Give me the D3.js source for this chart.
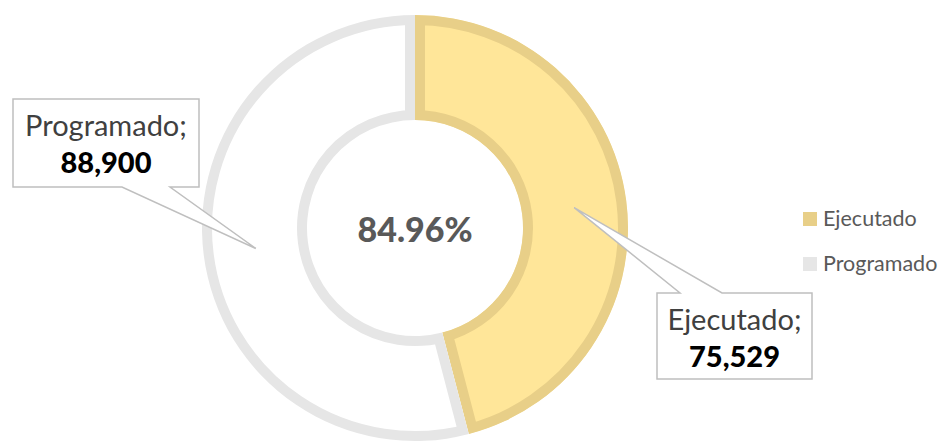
<!DOCTYPE html>
<html>
<head>
<meta charset="utf-8">
<script src="https://cdn.jsdelivr.net/npm/d3@7"></script>
<style>
  body { margin: 0; background: #fff; }
  text { font-family: Lato, "Open Sans", sans-serif; }
</style>
</head>
<body>
<svg id="donut" width="944" height="445"></svg>
<script>
// data
let categories = ["Ejecutado", "Programado"];
let values = [75529, 88900];
let fills = ["#FFE699", "#FFFFFF"];
let strokes = ["#E8CF88", "#E6E6E6"];

let svg = d3.select("#donut");
let cx = 415, cy = 228;
let outerR = 213, innerR = 108;

let pie = d3.pie().sort(null).value(d => d.value);
let arc = d3.arc().innerRadius(innerR).outerRadius(outerR);

let data = categories.map((c, i) => ({ name: c, value: values[i], fill: fills[i], stroke: strokes[i] }));
let arcs = pie(data);

let chart = svg.append("g").attr("transform", "translate(" + cx + ", " + cy + ")");
let defs = svg.append("defs");

// inner stroke: clip each slice's stroke to its own shape
arcs.forEach((a, i) => {
    defs.append("clipPath").attr("id", "clip" + i)
        .append("path").attr("d", arc(a));
    chart.append("path")
        .attr("d", arc(a))
        .attr("fill", a.data.fill)
        .attr("stroke", a.data.stroke)
        .attr("stroke-width", 20)
        .attr("clip-path", "url(#clip" + i + ")");
});

// centre percentage
let pct = values[0] / values[1] * 100;
chart.append("text")
    .attr("x", 0).attr("y", 14)
    .attr("text-anchor", "middle")
    .attr("font-size", 34).attr("font-weight", 900)
    .attr("fill", "#595959")
    .text(pct.toFixed(2) + "%");

// callouts
let fmt = d3.format(",");
let boxes = [
    { x: 657, y: 293, w: 155, h: 86, base: [680, 722] },   // Ejecutado
    { x: 13, y: 99, w: 186, h: 88, base: [122, 170] }      // Programado
];
let labelArc = d3.arc().innerRadius(innerR).outerRadius(outerR);

arcs.forEach((a, i) => {
    let b = boxes[i];
    let c = labelArc.centroid(a);
    let tip = [cx + c[0], cy + c[1]];
    let g = svg.append("g");
    let path;
    if (i == 0) {
        path = [[b.x, b.y], [b.base[0], b.y], tip, [b.base[1], b.y], [b.x + b.w, b.y],
                [b.x + b.w, b.y + b.h], [b.x, b.y + b.h]];
    } else {
        path = [[b.x, b.y], [b.x + b.w, b.y], [b.x + b.w, b.y + b.h], [b.base[1], b.y + b.h],
                tip, [b.base[0], b.y + b.h], [b.x, b.y + b.h]];
    }
    g.append("path")
        .attr("d", d3.line()(path) + "Z")
        .attr("fill", "#fff")
        .attr("stroke", "#BFBFBF")
        .attr("stroke-width", 1.5);
    g.append("text")
        .attr("x", b.x + b.w / 2).attr("y", b.y + 37)
        .attr("text-anchor", "middle")
        .attr("font-size", 29).attr("fill", "#404040")
        .text(a.data.name + ";");
    g.append("text")
        .attr("x", b.x + b.w / 2).attr("y", b.y + 74)
        .attr("text-anchor", "middle")
        .attr("font-size", 29).attr("font-weight", 900).attr("fill", "#000")
        .text(fmt(a.data.value));
});

// legend
let legend = svg.append("g").attr("transform", "translate(803, 212)");
categories.forEach((c, i) => {
    let row = legend.append("g").attr("transform", "translate(0, " + (i * 45) + ")");
    row.append("rect").attr("width", 14).attr("height", 14).attr("fill", strokes[i]);
    row.append("text").attr("x", 20).attr("y", 14)
        .attr("font-size", 21.5).attr("fill", "#595959")
        .text(c);
});
</script>
</body>
</html>
